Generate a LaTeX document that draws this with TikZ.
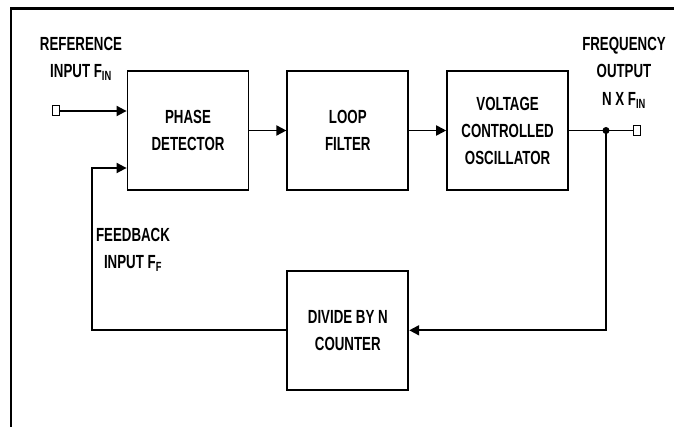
\documentclass[tikz,border=0pt]{standalone}
\usepackage{fontspec}
\setmainfont{Liberation Sans}[FakeStretch=0.7]
\usetikzlibrary{arrows.meta,positioning}

\begin{document}
\begin{tikzpicture}[x=1pt,y=-1pt,node distance=37pt,>={Triangle[length=10pt,width=10pt]},line width=1.8pt,
  block/.style={draw,line width=1.8pt,minimum width=121pt,minimum height=119pt,align=center,inner sep=0pt,font=\fontsize{19}{27}\selectfont\bfseries},
  lbl/.style={align=center,inner sep=0pt,font=\fontsize{19}{27.5}\selectfont\bfseries},
  pinbox/.style={draw,line width=1pt,fill=white,minimum width=7pt,minimum height=10pt,inner sep=0pt}]
\useasboundingbox (0,0) rectangle (674,427);
\draw[line width=2.5pt] (11,427) |- (674,8.5);
\node[block] (pd) at (188,130.5) {PHASE\\DETECTOR};
\node[block,right=of pd] (lf) {LOOP\\FILTER};
\node[block,right=of lf] (vco) {VOLTAGE\\CONTROLLED\\OSCILLATOR};
\node[block,below=79pt of lf] (div) {DIVIDE BY N\\COUNTER};
\node[pinbox] (in) at (55.5,111) {};
\node[pinbox] (out) at (636.5,130.5) {};
\coordinate[right=37pt of vco.east] (tap);
\coordinate (fbc) at (92,168);
\node[lbl] (reflbl) at (81,59) {REFERENCE\\INPUT F\textsubscript{IN}};
\node[lbl] (freqlbl) at (624,72.5) {FREQUENCY\\OUTPUT\\N X F\textsubscript{IN}};
\node[lbl] (fblbl) at (133,250) {FEEDBACK\\INPUT F\textsubscript{F}};
\draw[->] (in.east) -- (in -| pd.west);
\draw[->] (pd) -- (lf);
\draw[->] (lf) -- (vco);
\draw (vco) -- (out);
\fill (tap) circle (3.5);
\draw[->] (tap) |- (div);
\draw[->] (div) -| (fbc) -- (fbc -| pd.west);
\end{tikzpicture}
\end{document}
